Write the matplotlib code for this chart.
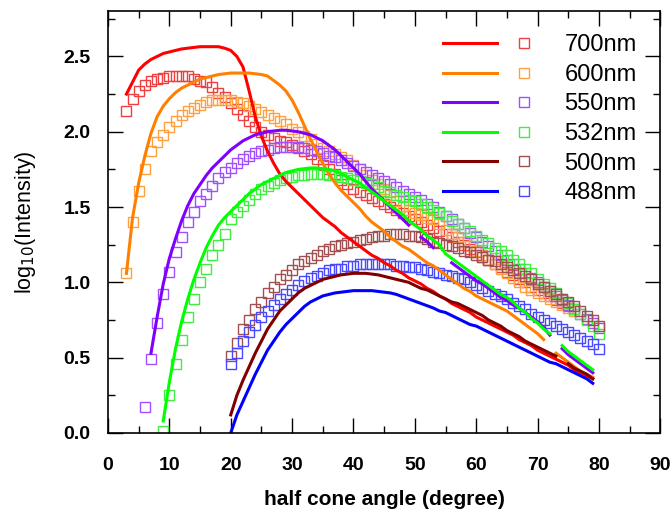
import numpy as np
import matplotlib
matplotlib.use("Agg")
import matplotlib.pyplot as plt
from matplotlib.legend_handler import HandlerTuple

nan = np.nan

labels = ["700nm", "600nm", "550nm", "532nm", "500nm", "488nm"]
line_colors = ["#ff0000", "#ff8000", "#8000ff", "#00ff00", "#800000", "#0000ff"]
marker_colors = ["#ee4040", "#ffa040", "#a050ff", "#40ee40", "#a05050", "#4848ff"]

# measured points (squares), one value per degree starting at *_start
meas_start = [3, 3, 6, 9, 20, 20]
meas_700 = [2.14, 2.22, 2.27, 2.31, 2.34, 2.35, 2.36, 2.37, 2.37, 2.37, 2.37, 2.35, 2.34, 2.33,
            2.30, 2.26, 2.23, 2.19, 2.15, 2.11, 2.07, 2.03, 2.00, 1.98, 1.96, 1.94, 1.93, 1.91,
            1.89, 1.87, 1.85, 1.82, 1.78, 1.75, 1.72, 1.68, 1.65, 1.62, 1.60, 1.58, 1.56, 1.54,
            1.52, 1.50, 1.48, 1.46, 1.44, 1.42, 1.40, 1.38, 1.36, 1.34, 1.32, 1.30, 1.27, 1.25,
            1.22, 1.20, 1.17, 1.15, 1.12, 1.10, 1.07, 1.05, 1.02, 1.00, 0.97, 0.95, 0.93, 0.91,
            0.88, 0.86, 0.84]
meas_600 = [1.06, 1.40, 1.61, 1.75, 1.87, 1.93, 1.98, 2.03, 2.07, 2.11, 2.14, 2.16, 2.18, 2.20,
            2.21, 2.21, 2.21, 2.21, 2.20, 2.19, 2.17, 2.15, 2.13, 2.11, 2.09, 2.07, 2.05, 2.02,
            2.00, 1.97, 1.95, 1.92, 1.89, 1.87, 1.85, 1.83, 1.81, 1.78, 1.75, 1.71, 1.68, 1.65,
            1.62, 1.58, 1.54, 1.51, 1.48, 1.46, 1.45, 1.43, 1.42, 1.39, 1.35, 1.32, 1.30, 1.27,
            1.24, 1.21, 1.18, 1.15, 1.12, 1.09, 1.06, 1.03, 1.00, 0.97, 0.95, 0.93, 0.91, 0.89,
            0.87, 0.85, 0.83, 0.81]
meas_550 = [0.17, 0.49, 0.73, 0.92, 1.07, 1.20, 1.30, 1.40, 1.47, 1.54, 1.59, 1.64, 1.69, 1.73,
            1.76, 1.79, 1.82, 1.84, 1.86, 1.87, 1.88, 1.89, 1.90, 1.90, 1.90, 1.90, 1.89, 1.88,
            1.87, 1.86, 1.84, 1.83, 1.81, 1.79, 1.77, 1.75, 1.73, 1.71, 1.69, 1.67, 1.65, 1.63,
            1.61, 1.59, 1.57, 1.55, 1.52, 1.50, 1.47, 1.44, 1.42, 1.39, 1.36, 1.33, 1.30, 1.27,
            1.24, 1.21, 1.18, 1.15, 1.12, 1.09, 1.06, 1.03, 1.00, 0.97, 0.94, 0.91, 0.88, 0.85,
            0.82, 0.79, 0.76, 0.73, 0.70]
meas_532 = [0.01, 0.25, 0.46, 0.62, 0.77, 0.89, 1.00, 1.09, 1.18, 1.25, 1.32, 1.42, 1.47, 1.51,
            1.55, 1.59, 1.62, 1.64, 1.66, 1.68, 1.69, 1.70, 1.71, 1.71, 1.72, 1.72, 1.72, 1.71,
            1.71, 1.70, 1.69, 1.68, 1.67, 1.66, 1.65, 1.63, 1.61, 1.60, 1.58, 1.57, 1.55, 1.54,
            1.52, 1.50, 1.48, 1.46, 1.44, 1.41, 1.39, 1.36, 1.34, 1.31, 1.28, 1.26, 1.23, 1.21,
            1.18, 1.15, 1.12, 1.09, 1.06, 1.02, 0.99, 0.96, 0.93, 0.89, 0.86, 0.82, 0.79, 0.75,
            0.71, 0.66]
meas_500 = [0.51, 0.60, 0.69, 0.75, 0.82, 0.87, 0.93, 0.97, 1.02, 1.05, 1.08, 1.12, 1.14, 1.16,
            1.18, 1.21, 1.22, 1.24, 1.25, 1.26, 1.27, 1.28, 1.29, 1.30, 1.31, 1.31, 1.32, 1.32,
            1.32, 1.31, 1.31, 1.30, 1.29, 1.27, 1.26, 1.25, 1.24, 1.23, 1.21, 1.20, 1.18, 1.17,
            1.15, 1.14, 1.12, 1.10, 1.08, 1.06, 1.04, 1.02, 0.99, 0.97, 0.94, 0.92, 0.89, 0.87,
            0.84, 0.81, 0.78, 0.75, 0.71]
meas_488 = [0.46, 0.53, 0.61, 0.67, 0.72, 0.77, 0.81, 0.85, 0.89, 0.92, 0.95, 0.98, 1.01, 1.03,
            1.04, 1.06, 1.08, 1.09, 1.09, 1.11, 1.11, 1.12, 1.12, 1.12, 1.12, 1.12, 1.12, 1.11,
            1.11, 1.10, 1.10, 1.09, 1.08, 1.07, 1.06, 1.05, 1.04, 1.03, 1.02, 1.00, 0.98, 0.96,
            0.94, 0.92, 0.91, 0.89, 0.86, 0.84, 0.82, 0.79, 0.77, 0.75, 0.73, 0.71, 0.69, 0.67,
            0.65, 0.63, 0.61, 0.59, 0.56]

# simulated curves (lines), one value per degree starting at *_start
sim_start = [3, 3, 7, 9, 20, 20]
sim_700 = [2.25, 2.33, 2.41, 2.45, 2.48, 2.50, 2.52, 2.53, 2.54, 2.55, 2.555, 2.56, 2.565, 2.565,
           2.565, 2.565, 2.555, 2.54, 2.50, 2.43, 2.27, 2.10, 1.97, 1.87, 1.79, 1.72, 1.67, 1.63,
           1.59, 1.55, 1.51, 1.47, 1.43, 1.40, 1.37, 1.33, 1.30, 1.27, 1.24, 1.21, 1.18, 1.16,
           1.13, 1.11, 1.08, 1.06, 1.03, 1.01, 0.99, 0.96, 0.94, 0.91, 0.89, 0.86, 0.84, 0.82,
           0.80, 0.77, 0.75, 0.73, 0.71, 0.69, 0.67, 0.65, 0.62, 0.60, 0.58, 0.55, 0.53, 0.51,
           0.49, 0.47, 0.45, 0.42, 0.40, 0.38, 0.36]
sim_600 = [1.06, 1.43, 1.66, 1.84, 1.99, 2.10, 2.17, 2.22, 2.26, 2.29, 2.31, 2.33, 2.35, 2.36,
           2.37, 2.38, 2.385, 2.39, 2.39, 2.39, 2.39, 2.385, 2.38, 2.37, 2.34, 2.31, 2.27, 2.21,
           2.13, 2.04, 1.95, 1.87, 1.79, 1.72, 1.66, 1.61, 1.57, 1.53, 1.49, 1.44, 1.40, 1.37,
           1.34, 1.30, 1.27, 1.24, 1.22, 1.19, 1.16, 1.13, 1.11, 1.08, 1.05, 1.02, 0.99, 0.96,
           0.94, 0.91, 0.89, 0.87, 0.85, 0.83, 0.81, 0.78, 0.75, 0.72, 0.69, 0.66, 0.62, nan,
           0.53, 0.50, 0.47, 0.44, 0.41, 0.39, 0.37]
sim_550 = [0.53, 0.77, 0.99, 1.16, 1.29, 1.41, 1.51, 1.59, 1.65, 1.71, 1.76, 1.80, 1.84, 1.88,
           1.91, 1.94, 1.96, 1.98, 1.99, 2.00, 2.005, 2.01, 2.01, 2.005, 2.00, 1.99, 1.98, 1.96,
           1.94, 1.91, 1.88, 1.84, 1.80, 1.76, 1.72, 1.67, 1.62, 1.58, 1.54, 1.50, 1.46, 1.42,
           1.38, nan, 1.30, 1.27, 1.23, nan, nan, 1.13, 1.10, 1.07, 1.04, 1.01, 0.99, 0.96,
           0.93, 0.90, 0.88, 0.85, 0.83, 0.80, 0.77, 0.74, 0.70, 0.65, nan, 0.56, 0.52, 0.49,
           0.46, 0.43, 0.40]
sim_532 = [0.08, 0.34, 0.56, 0.74, 0.89, 1.02, 1.13, 1.23, 1.31, 1.38, 1.43, 1.47, 1.51, 1.55,
           1.59, 1.62, 1.65, 1.67, 1.69, 1.71, 1.73, 1.74, 1.75, 1.755, 1.76, 1.76, 1.755, 1.75,
           1.74, 1.72, 1.70, 1.68, 1.66, 1.63, 1.60, 1.57, 1.54, 1.51, 1.48, 1.45, 1.41, 1.38,
           1.35, 1.31, 1.28, 1.25, 1.19, 1.16, 1.13, 1.10, 1.07, 1.04, 1.01, 0.98, 0.95, 0.92,
           0.90, 0.87, 0.83, 0.80, 0.76, 0.73, 0.69, 0.66, nan, 0.58, 0.54, 0.51, 0.48, 0.45,
           0.42]
sim_500 = [0.12, 0.25, 0.35, 0.44, 0.53, 0.61, 0.69, 0.75, 0.81, 0.85, 0.89, 0.93, 0.96, 0.98,
           1.00, 1.02, 1.03, 1.04, 1.05, 1.055, 1.06, 1.06, 1.06, 1.055, 1.05, 1.04, 1.03, 1.02,
           1.01, 1.00, 0.98, 0.96, 0.95, 0.93, 0.91, 0.89, 0.87, 0.86, 0.84, 0.82, 0.80, 0.78,
           0.75, 0.73, 0.71, 0.68, 0.66, 0.64, 0.61, 0.59, 0.57, 0.55, 0.53, 0.51, nan, 0.46,
           0.43, 0.41, 0.39, 0.36]
sim_488 = [0.00, 0.12, 0.21, 0.30, 0.39, 0.47, 0.55, 0.61, 0.67, 0.72, 0.76, 0.80, 0.84, 0.87,
           0.89, 0.91, 0.92, 0.93, 0.935, 0.94, 0.945, 0.945, 0.945, 0.945, 0.94, 0.935, 0.93,
           0.92, 0.905, 0.89, 0.875, 0.86, 0.845, 0.83, 0.81, 0.80, 0.78, 0.76, 0.74, 0.72,
           0.71, 0.69, 0.67, 0.65, 0.63, 0.61, 0.59, 0.57, 0.55, 0.53, 0.51, 0.49, 0.47, 0.46,
           0.44, 0.42, 0.40, 0.38, 0.36, 0.33]

meas = [meas_700, meas_600, meas_550, meas_532, meas_500, meas_488]
sims = [sim_700, sim_600, sim_550, sim_532, sim_500, sim_488]

plt.rcParams['font.family'] = ['Liberation Sans', 'DejaVu Sans']

fig = plt.figure(figsize=(6.71, 5.13), dpi=100)
ax = fig.add_axes([0.161, 0.156, 0.823, 0.822])

handles = []
for i in range(len(labels)):
    xm = np.arange(meas_start[i], meas_start[i] + len(meas[i]))
    mk, = ax.plot(xm, meas[i], linestyle='none', marker='s', markersize=7.8,
                  markerfacecolor='none', markeredgecolor=marker_colors[i],
                  markeredgewidth=1.0)
    handles.append(mk)

lines = []
for i in range(len(labels)):
    xs = np.arange(sim_start[i], sim_start[i] + len(sims[i]))
    ln, = ax.plot(xs, sims[i], color=line_colors[i], linewidth=2.2)
    lines.append(ln)

ax.set_xlim(0, 90)
ax.set_ylim(0, 2.8)
ax.set_xticks(np.arange(0, 91, 10))
ax.set_xticks(np.arange(5, 90, 10), minor=True)
ax.set_yticks([0, 0.5, 1.0, 1.5, 2.0, 2.5])
ax.set_yticks([0.25, 0.75, 1.25, 1.75, 2.25, 2.75], minor=True)
ax.tick_params(which='both', direction='in', top=True, right=True, width=1.0)
ax.tick_params(which='major', length=11)
ax.tick_params(which='minor', length=5)
ax.tick_params(axis='x', pad=17)
ax.tick_params(axis='y', pad=12.5)
for lab in ax.get_xticklabels() + ax.get_yticklabels():
    lab.set_fontweight('bold')
    lab.set_fontsize(14)
for s in ax.spines.values():
    s.set_linewidth(1.2)

ax.set_xlabel('half cone angle (degree)', fontsize=15, fontweight='bold', labelpad=12)
ax.set_ylabel('log$_{10}$(Intensity)', fontsize=15.5, labelpad=18)

leg = ax.legend([(l, m) for l, m in zip(lines, handles)], labels,
                handler_map={tuple: HandlerTuple(ndivide=None, pad=0)},
                loc='upper left', bbox_to_anchor=(0.660, 0.933),
                bbox_transform=fig.transFigure, frameon=False, fontsize=17,
                handlelength=4.6, handletextpad=0.55, labelspacing=0.32,
                borderpad=0, borderaxespad=0, numpoints=1)

fig.savefig("out.png", dpi=100)
